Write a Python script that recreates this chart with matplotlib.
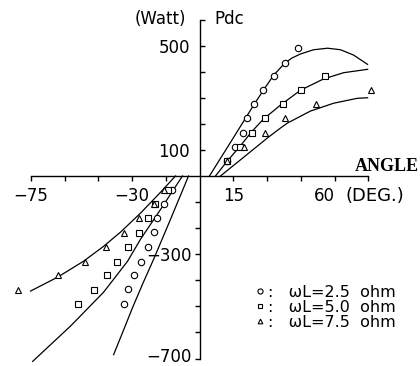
import matplotlib
matplotlib.use('Agg')
import matplotlib.pyplot as plt
from matplotlib.ticker import FixedLocator, FixedFormatter

# measured points (angle in deg, Pdc in Watt)
ang_c = [43.6, 37.8, 32.9, 28.4, 24.0, 20.9, 19.1, 15.6, 12.4,
         -12.4, -16.0, -19.1, -20.4, -22.7, -25.8, -29.3, -31.6, -33.8]
pdc_c = [492, 435, 382, 329, 275, 222, 165, 111, 58,
         -52, -109, -162, -216, -271, -329, -379, -433, -490]
ang_s = [55.6, 44.9, 36.9, 28.9, 23.1, 17.8, 12.4,
         -13.8, -19.6, -23.1, -27.1, -31.6, -36.9, -41.3, -47.1, -54.2]
pdc_s = [385, 328, 275, 222, 165, 111, 58,
         -52, -109, -162, -219, -271, -329, -381, -437, -490]
ang_t = [76.0, 51.6, 37.8, 28.9, 19.6, 12.4,
         -15.6, -20.4, -27.1, -33.8, -41.8, -50.7, -63.1, -80.9]
pdc_t = [328, 275, 222, 165, 111, 58,
         -52, -109, -162, -219, -271, -329, -381, -437]

# calculated curves
calc_c_pos_x = [4.4, 14.2, 24.0, 28.4, 32.9, 37.8, 41.0, 44.9, 50.7, 56.9, 62.7, 68.4, 74.7]
calc_c_pos_y = [0, 135, 271, 329, 386, 432, 452, 468, 484, 490, 484, 464, 428]
calc_s_pos_x = [7.1, 12.0, 18.2, 23.1, 28.4, 36.0, 44.9, 55.1, 64.0, 74.7]
calc_s_pos_y = [0, 54, 116, 169, 218, 272, 329, 372, 396, 409]
calc_t_pos_x = [9.3, 18.2, 30.2, 36.0, 39.1, 49.3, 59.6, 70.2, 74.7]
calc_t_pos_y = [0, 62, 146, 184, 203, 249, 279, 298, 300]

calc_c_neg_x = [-4.9, -12.9, -20.4, -25.3, -29.8, -34.2, -38.2]
calc_c_neg_y = [0, -166, -319, -414, -505, -600, -685]
calc_s_neg_x = [-7.6, -17.3, -26.2, -32.0, -42.7, -57.3, -74.2]
calc_s_neg_y = [0, -128, -242, -327, -446, -575, -711]
calc_t_neg_x = [-10.7, -17.3, -26.2, -35.1, -42.7, -51.6, -63.1, -75.1]
calc_t_neg_y = [0, -62, -142, -215, -270, -327, -388, -441]

labels = [':   \u03c9L=2.5  ohm', ':   \u03c9L=5.0  ohm', ':   \u03c9L=7.5  ohm']

PX = 0.72  # points per pixel at dpi 100

fig = plt.figure(figsize=(4.2, 3.66), dpi=100)
ax = fig.add_axes([0, 0, 1, 1])
ax.patch.set_visible(False)
ax.set_xlim(-88.7, 98.0)
ax.set_ylim(-728.5, 674.8)

for s in ['top', 'right']:
    ax.spines[s].set_visible(False)
ax.spines['left'].set_position(('data', 0))
ax.spines['bottom'].set_position(('data', 0))
ax.spines['left'].set_bounds(-700, 600)
ax.spines['bottom'].set_bounds(-75, 75)
ax.spines['left'].set_linewidth(1.0)
ax.spines['bottom'].set_linewidth(1.0)

lc = 'black'
for xs, ys in [(calc_c_pos_x, calc_c_pos_y), (calc_s_pos_x, calc_s_pos_y),
               (calc_t_pos_x, calc_t_pos_y), (calc_c_neg_x, calc_c_neg_y),
               (calc_s_neg_x, calc_s_neg_y), (calc_t_neg_x, calc_t_neg_y)]:
    ax.plot(xs, ys, color=lc, lw=0.9)

h1, = ax.plot(ang_c, pdc_c, 'o', ms=4.6, mfc='white', mec=lc, mew=0.8, ls='none', label=labels[0])
h2, = ax.plot(ang_s, pdc_s, 's', ms=3.8, mfc='white', mec=lc, mew=0.8, ls='none', label=labels[1])
h3, = ax.plot(ang_t, pdc_t, '^', ms=4.2, mfc='white', mec=lc, mew=0.8, ls='none', label=labels[2])

# y ticks: positive side points right, negative side points left
ax.yaxis.set_major_locator(FixedLocator([100, 200, 300, 400, 500, 600]))
ax.yaxis.set_major_formatter(FixedFormatter(['100', '', '', '', '500', '']))
ax.yaxis.set_minor_locator(FixedLocator([-700, -600, -500, -400, -300, -200, -100]))
ax.yaxis.set_minor_formatter(FixedFormatter(['', '', '', '', '\u2212300', '', '']))
ax.tick_params(axis='y', which='major', direction='in', length=5 * PX, width=1.0,
               pad=9.5 * PX, labelsize=12)
ax.tick_params(axis='y', which='minor', direction='out', length=5 * PX, width=1.0,
               pad=2.5 * PX, labelsize=12)
# bottom label sits a little higher so it stays inside the picture
ax.annotate('\u2212700', xy=(0, -700), xytext=(-7.5 * PX, 2 * PX), textcoords='offset points',
            ha='right', va='center', fontsize=12)

ax.xaxis.set_major_locator(FixedLocator([-75, -60, -45, -30, -15, 15, 30, 45, 60, 75]))
ax.xaxis.set_major_formatter(FixedFormatter(['\u221275', '', '', '\u221230', '', '15', '', '', '', '']))
ax.tick_params(axis='x', which='major', direction='out', length=5 * PX, width=1.0,
               pad=6 * PX, labelsize=12)

ax.annotate('60', xy=(60, 0), xytext=(-21 * PX, -11 * PX), textcoords='offset points',
            ha='left', va='top', fontsize=12)
ax.annotate('(DEG.)', xy=(60, 0), xytext=(11 * PX, -11 * PX), textcoords='offset points',
            ha='left', va='top', fontsize=13)
ax.annotate('ANGLE', xy=(75, 0), xytext=(51 * PX, 4.5 * PX), textcoords='offset points',
            ha='right', va='baseline', fontsize=13, fontweight='bold', family='Liberation Serif')
ax.annotate('(Watt)', xy=(0, 600), xytext=(-13 * PX, -4.5 * PX), textcoords='offset points',
            ha='right', va='baseline', fontsize=12)
ax.annotate('Pdc', xy=(0, 600), xytext=(15 * PX, -4.5 * PX), textcoords='offset points',
            ha='left', va='baseline', fontsize=12)

ax.legend(handles=[h1, h2, h3], loc='upper left', bbox_to_anchor=(255.5 / 420, 1 - 285 / 366),
          frameon=False, fontsize=11.5, handlelength=0.6, handletextpad=0.2,
          labelspacing=0.0, borderpad=0, borderaxespad=0, markerscale=0.8)

fig.savefig('out.png', dpi=100)
